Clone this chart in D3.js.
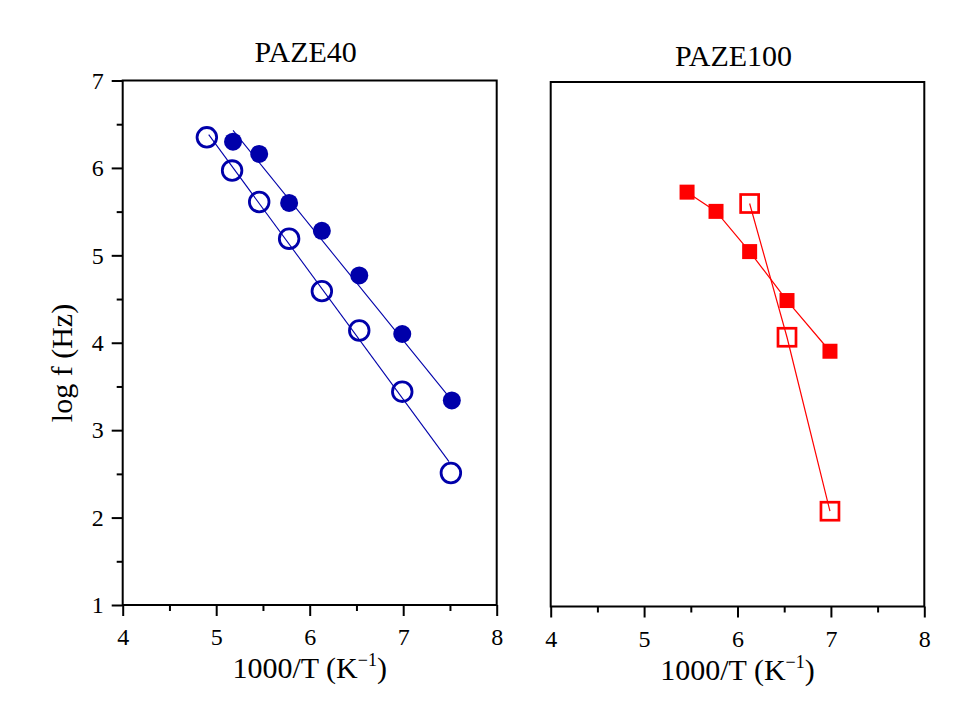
<!DOCTYPE html>
<html>
<head>
<meta charset="UTF-8">
<style>
body { margin: 0; background: #fff; }
text { font-family: "Liberation Serif", "Times New Roman", serif; fill: #000; }
</style>
</head>
<body>
<svg width="978" height="720"></svg>
<script src="https://cdn.jsdelivr.net/npm/d3@7/dist/d3.min.js"></script>
<script>

// PAZE40 : filled and open circles, with fitted lines
var p40FilledX = [5.18, 5.46, 5.78, 6.13, 6.53, 6.99, 7.52];
var p40FilledY = [6.30, 6.16, 5.60, 5.28, 4.77, 4.10, 3.34];
var p40OpenX = [4.90, 5.17, 5.46, 5.78, 6.13, 6.53, 6.99, 7.51];
var p40OpenY = [6.35, 5.97, 5.61, 5.19, 4.59, 4.14, 3.44, 2.51];
var p40FilledFitX = [5.18, 7.52], p40FilledFitY = [6.43, 3.34];
var p40OpenFitX = [4.92, 7.49], p40OpenFitY = [6.38, 2.64];

// PAZE100 : filled and open squares joined by lines
var p100FilledX = [5.46, 5.77, 6.13, 6.53, 6.99];
var p100FilledY = [5.74, 5.52, 5.06, 4.50, 3.92];
var p100OpenX = [6.13, 6.53, 6.99];
var p100OpenY = [5.61, 4.08, 2.09];

var xTicks = [4, 5, 6, 7, 8], xMinor = [4.5, 5.5, 6.5, 7.5];
var yTicks = [1, 2, 3, 4, 5, 6, 7], yMinor = [1.5, 2.5, 3.5, 4.5, 5.5, 6.5];
var titles = ["PAZE40", "PAZE100"];

var blue = "#0000aa", red = "#ff0000";
var serif = '"Liberation Serif", "Times New Roman", serif';
var svg = d3.select("svg");

function zip(xs, ys) {
  return xs.map(function(x, i) { return [x, ys[i]]; });
}

function panel(left, top, right, bottom, title, titleY, showY) {
  var g = svg.append("g");
  var x = d3.scaleLinear().domain([4, 8]).range([left, right]);
  var y = d3.scaleLinear().domain([1, 7]).range([bottom, top]);

  // minor ticks
  g.append("g")
    .attr("transform", "translate(0," + bottom + ")")
    .call(d3.axisBottom(x).tickValues(xMinor).tickSize(6).tickFormat(""))
    .call(function(a) { a.select(".domain").remove(); });
  // major ticks
  g.append("g")
    .attr("transform", "translate(0," + bottom + ")")
    .call(d3.axisBottom(x).tickValues(xTicks).tickSize(11).tickPadding(12).tickFormat(d3.format("d")))
    .call(function(a) { a.select(".domain").remove(); });

  if (showY) {
    g.append("g")
      .attr("transform", "translate(" + left + ",0)")
      .call(d3.axisLeft(y).tickValues(yMinor).tickSize(6).tickFormat(""))
      .call(function(a) { a.select(".domain").remove(); });
    g.append("g")
      .attr("transform", "translate(" + left + ",0)")
      .call(d3.axisLeft(y).tickValues(yTicks).tickSize(11).tickPadding(8).tickFormat(d3.format("d")))
      .call(function(a) { a.select(".domain").remove(); });
  }

  g.selectAll(".tick line").attr("stroke", "#000").attr("stroke-width", 2);
  g.selectAll(".tick text")
    .style("font-family", serif)
    .style("font-size", "24px")
    .style("fill", "#000");

  g.append("rect")
    .attr("x", left).attr("y", top)
    .attr("width", right - left).attr("height", bottom - top)
    .attr("fill", "none").attr("stroke", "#000").attr("stroke-width", 2);

  g.append("text")
    .attr("x", (left + right) / 2 - 4)
    .attr("y", titleY)
    .attr("text-anchor", "middle")
    .attr("font-size", 30)
    .text(title);

  var xl = g.append("text")
    .attr("x", (left + right) / 2)
    .attr("y", bottom + 73)
    .attr("text-anchor", "middle")
    .attr("font-size", 30);
  xl.append("tspan").text("1000/T (K");
  xl.append("tspan").attr("font-size", 18).attr("dy", -12).text("\u22121");
  xl.append("tspan").attr("dy", 12).text(")");

  return {g: g, x: x, y: y};
}

var p1 = panel(122.7, 80.5, 496.7, 605, titles[0], 62, true);
var p2 = panel(550.7, 82, 924.3, 606.5, titles[1], 66, false);

svg.append("text")
  .attr("transform", "translate(72,363) rotate(-90)")
  .attr("text-anchor", "middle")
  .attr("font-size", 30)
  .text("log f (Hz)");

// PAZE40
var line1 = d3.line().x(function(d) { return p1.x(d[0]); }).y(function(d) { return p1.y(d[1]); });

p1.g.append("path")
  .datum(zip(p40FilledFitX, p40FilledFitY))
  .attr("fill", "none").attr("stroke", blue).attr("stroke-width", 1.1)
  .attr("d", line1);
p1.g.append("path")
  .datum(zip(p40OpenFitX, p40OpenFitY))
  .attr("fill", "none").attr("stroke", blue).attr("stroke-width", 1.1)
  .attr("d", line1);

p1.g.selectAll(".filled")
  .data(zip(p40FilledX, p40FilledY))
  .enter().append("circle")
  .attr("cx", function(d) { return p1.x(d[0]); })
  .attr("cy", function(d) { return p1.y(d[1]); })
  .attr("r", 9)
  .attr("fill", blue);

p1.g.selectAll(".open")
  .data(zip(p40OpenX, p40OpenY))
  .enter().append("circle")
  .attr("cx", function(d) { return p1.x(d[0]); })
  .attr("cy", function(d) { return p1.y(d[1]); })
  .attr("r", 9.8)
  .attr("fill", "none")
  .attr("stroke", blue)
  .attr("stroke-width", 2.8);

// PAZE100
var line2 = d3.line().x(function(d) { return p2.x(d[0]); }).y(function(d) { return p2.y(d[1]); });

p2.g.append("path")
  .datum(zip(p100FilledX, p100FilledY))
  .attr("fill", "none").attr("stroke", red).attr("stroke-width", 1.2)
  .attr("d", line2);
p2.g.append("path")
  .datum(zip(p100OpenX, p100OpenY))
  .attr("fill", "none").attr("stroke", red).attr("stroke-width", 1.2)
  .attr("d", line2);

p2.g.selectAll(".filled")
  .data(zip(p100FilledX, p100FilledY))
  .enter().append("rect")
  .attr("x", function(d) { return p2.x(d[0]) - 7.5; })
  .attr("y", function(d) { return p2.y(d[1]) - 7.5; })
  .attr("width", 15).attr("height", 15)
  .attr("fill", red);

p2.g.selectAll(".open")
  .data(zip(p100OpenX, p100OpenY))
  .enter().append("rect")
  .attr("x", function(d) { return p2.x(d[0]) - 9; })
  .attr("y", function(d) { return p2.y(d[1]) - 9; })
  .attr("width", 18).attr("height", 18)
  .attr("fill", "none")
  .attr("stroke", red)
  .attr("stroke-width", 2.7);

</script>
</body>
</html>
